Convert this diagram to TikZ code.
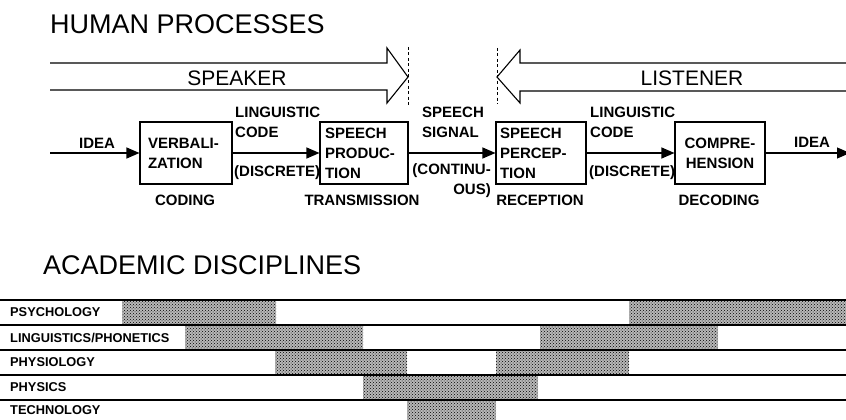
\documentclass[tikz,border=0pt]{standalone}
\usepackage{fontspec}
\setmainfont{Liberation Sans}
\usetikzlibrary{arrows.meta,patterns}
\begin{document}
\begin{tikzpicture}[x=1pt,y=-1pt,
  lab/.style={font=\fontsize{15}{20}\selectfont\bfseries, inner sep=0pt},
  procbox/.style={draw, line width=1.1pt, minimum height=62pt, inner ysep=0pt,
    font=\fontsize{15}{20}\selectfont\bfseries},
  flow/.style={line width=1.1pt, -{Triangle[length=13pt,width=11pt]}},
  heading/.style={font=\fontsize{27}{30}\selectfont, inner sep=0pt, anchor=west},
  big/.style={font=\fontsize{21}{24}\selectfont, inner sep=0pt},
  bigarrow/.style={line width=1.1pt, line join=miter},
  divider/.style={line width=1pt, dash pattern=on 3pt off 2.5pt},
  rowlab/.style={font=\fontsize{12.8}{14}\selectfont\bfseries, anchor=west, inner sep=0pt},
  shade/.style={fill=black!28, postaction={pattern=crosshatch dots, pattern color=black}},
  rule/.style={line width=1.2pt}]
\clip (0,0) rectangle (846,420);
\fill[white] (0,0) rectangle (846,420);

% headings
\node[heading] (hp) at (50,24) {HUMAN PROCESSES};
\node[heading] (ad) at (43,265) {ACADEMIC DISCIPLINES};

% big arrows
\draw[bigarrow] (50,63) -- (387,63) -- (387,48) -- (408,77) -- (387,103) -- (387,90) -- (50,90);
\node[big] (speaker) at (237,78) {SPEAKER};
\draw[bigarrow] (846,63) -- (520,63) -- (520,50) -- (497,77) -- (520,103) -- (520,91) -- (846,91);
\node[big] (listener) at (692,78) {LISTENER};
\draw[divider] (408,47) -- (408,107);
\draw[divider] (497,48) -- (497,104);

% process boxes
\node[procbox, text width=76pt, inner xsep=8pt, align=left] (verb) at (186,153) {VERBALI-\\ZATION};
\node[procbox, text width=78pt, inner xsep=5pt, align=left] (prod) at (364,153) {SPEECH\\PRODUC-\\TION};
\node[procbox, text width=82pt, inner xsep=4pt, align=left] (perc) at (541,153) {SPEECH\\PERCEP-\\TION};
\node[procbox, text width=80pt, inner xsep=5pt, align=center] (comp) at (720,153) {COMPRE-\\HENSION};

% connectors
\coordinate (ideain) at (50,153);
\coordinate (ideaout) at (850,153);
\draw[flow] (ideain) -- (verb.west);
\draw[flow] (verb.east) -- (prod.west);
\draw[flow] (prod.east) -- (perc.west);
\draw[flow] (perc.east) -- (comp.west);
\draw[flow] (comp.east) -- (ideaout);

% labels
\node[lab] (idea1) at (97,143) {IDEA};
\node[lab, align=left, anchor=west] (lc1) at (235,122.5) {LINGUISTIC\\CODE};
\node[lab, anchor=west] (disc1) at (234,173) {(DISCRETE)};
\node[lab] (coding) at (185,200) {CODING};
\node[lab] (trans) at (362,200) {TRANSMISSION};
\node[lab, align=left, anchor=west] (sig) at (422,122.5) {SPEECH\\SIGNAL};
\node[lab, align=right, anchor=east] (cont) at (491,180.5) {(CONTINU-\\OUS)};
\node[lab] (recep) at (540,200) {RECEPTION};
\node[lab, align=left, anchor=west] (lc2) at (590,122.5) {LINGUISTIC\\CODE};
\node[lab, anchor=west] (disc2) at (589,173) {(DISCRETE)};
\node[lab] (decod) at (719,200) {DECODING};
\node[lab] (idea2) at (812,142) {IDEA};

% discipline bars
\path[shade] (122,300) rectangle (276,325);
\path[shade] (629,300) rectangle (846,325);
\path[shade] (185,325) rectangle (363,350);
\path[shade] (540,325) rectangle (718,350);
\path[shade] (275,350) rectangle (407,375);
\path[shade] (496,350) rectangle (629,375);
\path[shade] (363,375) rectangle (538,400);
\path[shade] (407,400) rectangle (496,420);

\foreach \yy in {300,325,350,375,400}
  \draw[rule] (0,\yy) -- (846,\yy);

\node[rowlab] (psy) at (10,312.5) {PSYCHOLOGY};
\node[rowlab] (ling) at (10,337.5) {LINGUISTICS/PHONETICS};
\node[rowlab] (phys) at (10,362.5) {PHYSIOLOGY};
\node[rowlab] (phy) at (10,387.5) {PHYSICS};
\node[rowlab] (tech) at (10,410.5) {TECHNOLOGY};
\end{tikzpicture}
\end{document}
